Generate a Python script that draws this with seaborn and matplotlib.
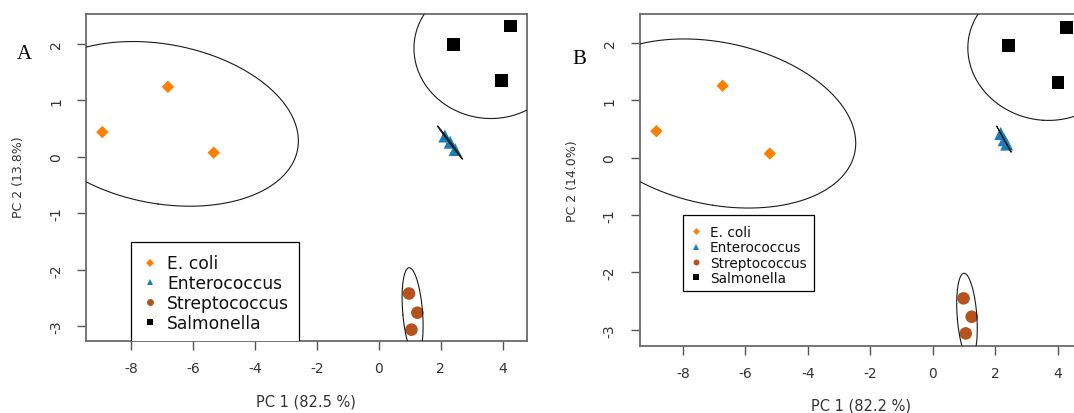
import numpy as np
import pandas as pd
import matplotlib
matplotlib.use("Agg")
import matplotlib.pyplot as plt
from matplotlib.patches import Rectangle
from matplotlib.lines import Line2D
import seaborn as sns

# ---------------- data ----------------
groups = ["E. coli", "Enterococcus", "Streptococcus", "Salmonella"]

# Panel A (PC scores)
a_ecoli_pc1 = [-8.94, -6.82, -5.34]
a_ecoli_pc2 = [0.44, 1.24, 0.075]
a_entero_pc1 = [2.13, 2.30, 2.46]
a_entero_pc2 = [0.37, 0.26, 0.13]
a_strep_pc1 = [0.97, 1.24, 1.05]
a_strep_pc2 = [-2.42, -2.76, -3.06]
a_salm_pc1 = [2.42, 4.26, 3.96]
a_salm_pc2 = [1.99, 2.32, 1.35]

# Panel B (PC scores)
b_ecoli_pc1 = [-8.85, -6.73, -5.22]
b_ecoli_pc2 = [0.46, 1.25, 0.07]
b_entero_pc1 = [2.17, 2.28, 2.36]
b_entero_pc2 = [0.42, 0.31, 0.235]
b_strep_pc1 = [0.98, 1.24, 1.05]
b_strep_pc2 = [-2.45, -2.77, -3.06]
b_salm_pc1 = [2.42, 4.27, 4.00]
b_salm_pc2 = [1.95, 2.27, 1.31]

x_ticks = [-8, -6, -4, -2, 0, 2, 4]
y_ticks = [-3, -2, -1, 0, 1, 2]

a_xlabel = "PC 1 (82.5 %)"
a_ylabel = "PC 2 (13.8%)"
b_xlabel = "PC 1 (82.2 %)"
b_ylabel = "PC 2 (14.0%)"

palette = {"E. coli": "#FF8000", "Enterococcus": "#1B7DB8",
           "Streptococcus": "#B5531F", "Salmonella": "#000000"}
markers = {"E. coli": "D", "Enterococcus": "^",
           "Streptococcus": "o", "Salmonella": "s"}
sizes = {"E. coli": 40, "Enterococcus": 88, "Streptococcus": 82, "Salmonella": 85}


def make_df(pc1s, pc2s):
    rows = []
    for g, xs, ys in zip(groups, pc1s, pc2s):
        for x, y in zip(xs, ys):
            rows.append({"group": g, "PC1": x, "PC2": y})
    return pd.DataFrame(rows)


dfA = make_df([a_ecoli_pc1, a_entero_pc1, a_strep_pc1, a_salm_pc1],
              [a_ecoli_pc2, a_entero_pc2, a_strep_pc2, a_salm_pc2])
dfB = make_df([b_ecoli_pc1, b_entero_pc1, b_strep_pc1, b_salm_pc1],
              [b_ecoli_pc2, b_entero_pc2, b_strep_pc2, b_salm_pc2])

# ---------------- style ----------------
sns.set_style("white")
plt.rcParams["font.family"] = ["DejaVu Sans"]

W, H = 1074, 414
fig = plt.figure(figsize=(W / 100, H / 100), dpi=100)


def fx(px):
    return px / W


def fy(py):
    return 1 - py / H


def add_axes_px(left, top, right, bottom):
    return fig.add_axes([fx(left), fy(bottom), (right - left) / W, (bottom - top) / H])


axA = add_axes_px(86.2, 15, 526.6, 342)
axB = add_axes_px(639.8, 15, 1082, 346.7)

R = np.sqrt(-2 * np.log(0.05))  # 95% normal-theory ellipse radius (2 df)


def draw_ellipse(ax, xs, ys):
    xs = np.asarray(xs)
    ys = np.asarray(ys)
    cov = np.cov(xs, ys)
    vals, vecs = np.linalg.eigh(cov)
    vals = np.clip(vals, 0, None)
    t = np.linspace(0, 2 * np.pi, 400)
    circ = np.vstack([np.cos(t), np.sin(t)])
    pts = vecs @ (np.sqrt(vals)[:, None] * circ) * R
    ax.plot(pts[0] + xs.mean(), pts[1] + ys.mean(), color="#1a1a1a", lw=0.8, zorder=3)


def style_axes(ax, xlim, ylim, ypad):
    ax.set_xlim(*xlim)
    ax.set_ylim(*ylim)
    ax.set_xticks(x_ticks)
    ax.set_yticks(y_ticks)
    ax.set_xticklabels([str(v) for v in x_ticks])
    ax.set_yticklabels([str(v) for v in y_ticks], rotation=90, va="center")
    ax.set_xlabel("")
    ax.set_ylabel("")
    for s in ax.spines.values():
        s.set_visible(True)
        s.set_color("#6a6a6a")
        s.set_linewidth(1.3)
    ax.tick_params(axis="both", direction="out", length=6.2, width=1.0,
                   color="#555555", labelcolor="#333333", labelsize=10)
    ax.tick_params(axis="x", pad=8.5, bottom=True)
    ax.tick_params(axis="y", pad=ypad, left=True)


def draw_panel(ax, df, groups_x, groups_y):
    sns.scatterplot(data=df, x="PC1", y="PC2", hue="group", style="group",
                    size="group", palette=palette, markers=markers, sizes=sizes,
                    hue_order=groups, style_order=groups, size_order=groups,
                    linewidth=0, legend=False, ax=ax, zorder=2)
    for xs, ys in zip(groups_x, groups_y):
        draw_ellipse(ax, xs, ys)


draw_panel(axA, dfA, [a_ecoli_pc1, a_entero_pc1, a_strep_pc1, a_salm_pc1],
           [a_ecoli_pc2, a_entero_pc2, a_strep_pc2, a_salm_pc2])
draw_panel(axB, dfB, [b_ecoli_pc1, b_entero_pc1, b_strep_pc1, b_salm_pc1],
           [b_ecoli_pc2, b_entero_pc2, b_strep_pc2, b_salm_pc2])

style_axes(axA, (-9.46, 4.77), (-3.261, 2.531), 10.5)
style_axes(axB, (-9.38, 4.77), (-3.274, 2.499), 10.5)


# ---------------- legends ----------------
def legend_handles(ms_scale):
    ms = {"E. coli": 4.1 * ms_scale, "Enterococcus": 5.0 * ms_scale,
          "Streptococcus": 5.0 * ms_scale, "Salmonella": 5.0 * ms_scale}
    return [Line2D([], [], linestyle="none", marker=markers[g], color=palette[g],
                   markersize=ms[g], markeredgewidth=0) for g in groups]


def frame_px(ax, left, top, right, bottom, ax_box):
    l, t, r, b = ax_box
    x0 = (left - l) / (r - l)
    x1 = (right - l) / (r - l)
    y0 = (b - bottom) / (b - t)
    y1 = (b - top) / (b - t)
    rect = Rectangle((x0, y0), x1 - x0, y1 - y0, transform=ax.transAxes,
                     fill=True, facecolor="white", edgecolor="black", lw=0.9, zorder=4)
    ax.add_patch(rect)


# Panel A legend frame runs past the plot region and is clipped there
frame_px(axA, 131, 243.3, 299.3, 360, (86.2, 15, 526.6, 342))
frame_px(axB, 682.8, 216, 813.8, 292.3, (639.8, 15, 1082, 346.7))

fsA = 12.3
legA = axA.legend(handles=legend_handles(1.0), labels=groups, frameon=False,
                  loc="upper left", bbox_to_anchor=(fx(141.5), fy(255.5)),
                  bbox_transform=fig.transFigure, borderpad=0, borderaxespad=0,
                  handlelength=1.0, handletextpad=0.50, labelspacing=0.11,
                  fontsize=fsA)
legA.set_zorder(5)
for t in legA.get_texts():
    t.set_color("#111111")

fsB = 9.8
legB = axB.legend(handles=legend_handles(0.85), labels=groups, frameon=False,
                  loc="upper left", bbox_to_anchor=(fx(691.0), fy(226.0)),
                  bbox_transform=fig.transFigure, borderpad=0, borderaxespad=0,
                  handlelength=0.8, handletextpad=0.58, labelspacing=0.095,
                  fontsize=fsB)
legB.set_zorder(5)
for t in legB.get_texts():
    t.set_color("#111111")

# ---------------- labels ----------------
fig.text(fx(306), fy(402), a_xlabel, ha="center", va="center", fontsize=10.5, color="#333333")
fig.text(fx(861), fy(406), b_xlabel, ha="center", va="center", fontsize=10.5, color="#333333")
fig.text(fx(19), fy(177.5), a_ylabel, ha="center", va="center", rotation=90,
         fontsize=9, color="#333333")
fig.text(fx(572.8), fy(181.3), b_ylabel, ha="center", va="center", rotation=90,
         fontsize=9, color="#333333")
fig.text(fx(24.2), fy(54.5), "A", ha="center", va="center", fontsize=15,
         family="Liberation Serif", color="black")
fig.text(fx(579.7), fy(60), "B", ha="center", va="center", fontsize=15,
         family="Liberation Serif", color="black")

fig.savefig("out.png", dpi=100)
